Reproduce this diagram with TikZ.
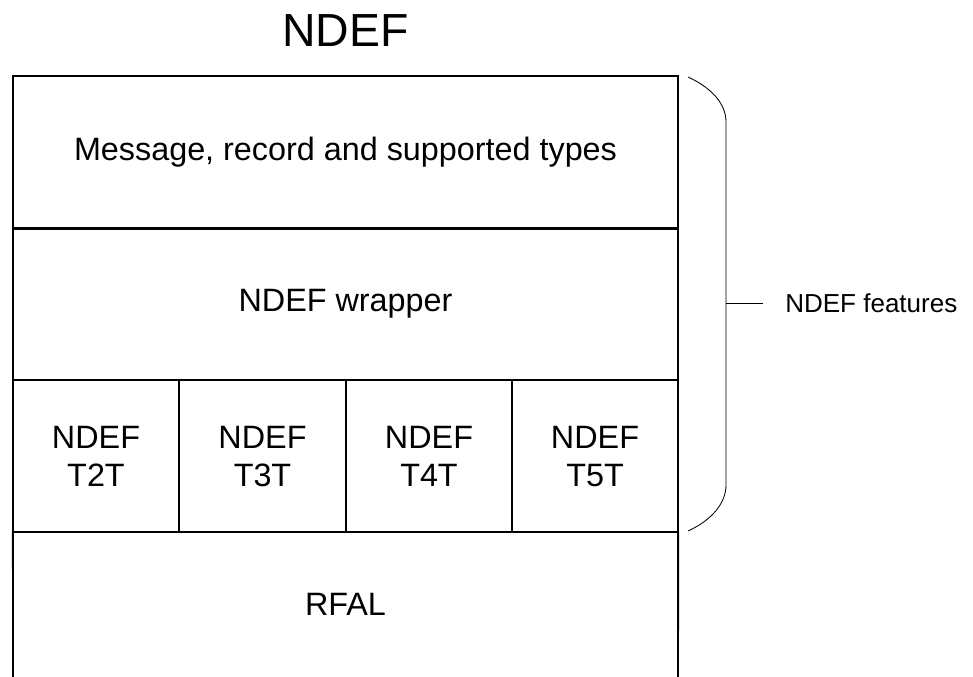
\documentclass[tikz,border=0pt]{standalone}
\usepackage{fontspec}
\setmainfont{Liberation Sans}
\begin{document}
\begin{tikzpicture}[x=0.025cm, y=-0.025cm,
  layer/.style={draw, line width=1.4pt, outer sep=0pt, minimum width=16.625cm, minimum height=3.8cm, inner sep=0pt, font=\fontsize{23}{27}\selectfont},
  cell/.style={draw, line width=1.4pt, outer sep=0pt, minimum width=4.15cm, minimum height=3.8cm, inner sep=0pt, text depth=0pt, align=center, font=\fontsize{23}{27}\selectfont}]
\useasboundingbox (0,0) rectangle (973,677);
\node[font=\fontsize{33}{38}\selectfont] (title) at (345.5,31) {NDEF};
\node[layer] (msg) at (345.5,152.5) {Message, record and supported types};
\node[layer] (wrap) at (345.5,304) {NDEF wrapper};
\node[cell] (t2t) at (96,456) {NDEF\\T2T};
\node[cell] (t3t) at (262.5,456) {NDEF\\T3T};
\node[cell] (t4t) at (429,456) {NDEF\\T4T};
\node[cell] (t5t) at (595,456) {NDEF\\T5T};
\node[font=\fontsize{23}{27}\selectfont] (rfal) at (345.5,604) {RFAL};
\coordinate (rfalsw) at (13,677);
\coordinate (rfalse) at (678,677);
\draw[line width=1.4pt] (t2t.south west) -- (rfalsw);
\draw[line width=1.4pt] (t5t.south east) -- (rfalse);
% brace over the NDEF part
\coordinate (bt) at (688,77);
\coordinate (bb) at (688,531);
\coordinate (bm) at (726,303);
\coordinate (tick) at (763,303);
\draw[line width=0.6pt] (bt) .. controls (712,88) and (726,104) .. (726,122) -- (726,485) .. controls (726,503) and (712,520) .. (bb);
\draw[line width=0.6pt] (bm) -- (tick);
\node[anchor=west, inner sep=0pt, font=\fontsize{18.5}{22}\selectfont] (feat) at (785,303) {NDEF features};
\end{tikzpicture}
\end{document}
